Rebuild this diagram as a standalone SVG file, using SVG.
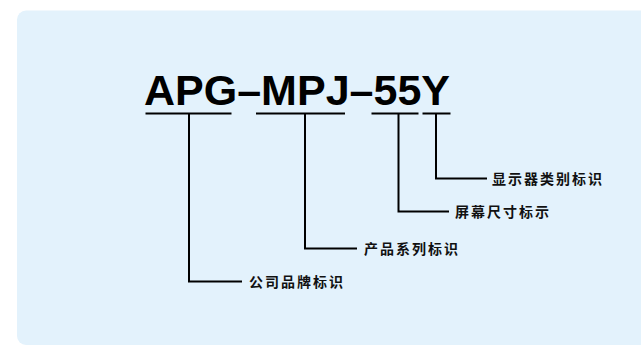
<svg xmlns="http://www.w3.org/2000/svg" width="641" height="346" viewBox="0 0 641 346">
<style>
.ln{stroke:#000;stroke-width:2;fill:none}
.lbl{font-family:"Liberation Sans","Noto Sans CJK SC",sans-serif;font-weight:bold;font-size:14px;letter-spacing:2px;fill:#111;dominant-baseline:central}
.code{font-family:"Liberation Sans",Arial,sans-serif;font-weight:bold;font-size:42px;fill:#000}
</style>
<rect x="0" y="0" width="641" height="346" fill="#fff"/>
<rect x="17" y="10.5" width="640" height="334.5" rx="9" fill="#e3f2fc"/>
<g id="code"><text class="code" x="144" y="105" textLength="306" lengthAdjust="spacingAndGlyphs">APG–MPJ–55Y</text></g>
<g id="connectors">
<path class="ln" d="M145.5 113.5H231.5M256 113.5H345M371.5 113.5H418.5M422.5 113.5H450.5"/>
<path class="ln" d="M189 113.5V281.5H242"/>
<path class="ln" d="M305 113.5V248.5H357"/>
<path class="ln" d="M398.5 113.5V211.5H449"/>
<path class="ln" d="M436 113.5V178.5H487"/>
</g>
<g id="n1"><text class="lbl" x="249" y="282">公司品牌标识</text></g>
<g id="n2"><text class="lbl" x="364" y="249">产品系列标识</text></g>
<g id="n3"><text class="lbl" x="455" y="212">屏幕尺寸标示</text></g>
<g id="n4"><text class="lbl" x="492" y="179">显示器类别标识</text></g>
</svg>
